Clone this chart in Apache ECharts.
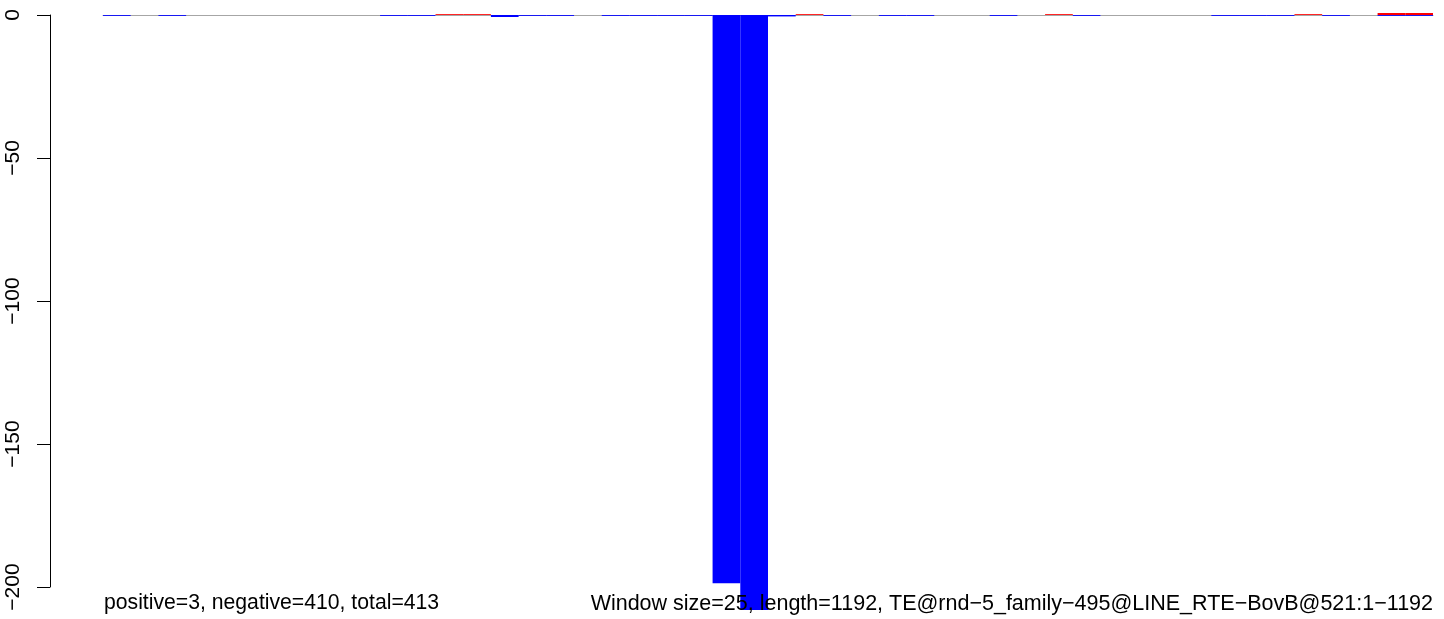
<!DOCTYPE html>
<html>
<head>
<meta charset="utf-8">
<script src="https://cdn.jsdelivr.net/npm/echarts@6/dist/echarts.min.js"></script>
<style>
html, body { margin: 0; padding: 0; background: #fff; }
#main { width: 1444px; height: 619px; }
</style>
</head>
<body>
<div id="main"></div>
<script>
// one window per bar, 48 windows of 25 over 1192
var windows = [];
for (var w = 0; w < 48; w++) windows.push(String(w + 1));

var negVals = [
  -0.3, 0, -0.3, 0, 0, 0, 0, 0, 0, 0,
  -0.3, -0.3, 0, 0, -0.7, -0.3, -0.3, 0, -0.3, -0.3,
  -0.3, -0.3, -198.7, -208, -0.5, 0, -0.3, 0, -0.3, -0.3,
  0, 0, -0.3, 0, 0, -0.3, 0, 0, 0, 0,
  -0.3, -0.3, -0.3, 0, -0.3, 0, -0.3, -0.3
];
var posVals = [
  0, 0, 0, 0, 0, 0, 0, 0, 0, 0,
  0, 0, 0.3, 0.3, 0, 0, 0, 0, 0, 0,
  0, 0, 0, 0, 0, 0.3, 0, 0, 0, 0,
  0, 0, 0, 0, 0.3, 0, 0, 0, 0, 0,
  0, 0, 0, 0.3, 0, 0, 0.7, 0.7
];
var yTicks = [0, -50, -100, -150, -200];

var leftText = 'positive=3, negative=410, total=413';
var rightText = 'Window size=25, length=1192, TE@rnd\u22125_family\u2212495@LINE_RTE\u2212BovB@521:1\u22121192';

var font = 'Liberation Sans, Arial, Helvetica, sans-serif';
var chart = echarts.init(document.getElementById('main'));

var option = {
    animation: false,
    backgroundColor: '#fff',
    textStyle: { fontFamily: font },
    title: [{
        text: leftText,
        left: 104, top: 593, padding: 0,
        textStyle: { fontFamily: font, fontSize: 21.2, fontWeight: 'normal', color: '#000' }
    }, {
        text: rightText,
        right: 11, top: 593, padding: 0,
        textStyle: { fontFamily: font, fontSize: 21.5, fontWeight: 'normal', color: '#000' }
    }],
    grid: { left: 103, right: 11, top: 15, bottom: 32, outerBoundsMode: 'none' },
    xAxis: {
        type: 'category',
        data: windows,
        boundaryGap: true,
        axisLine: { show: true, onZero: true, lineStyle: { color: '#a6a6a6', width: 1 } },
        axisTick: { show: false },
        axisLabel: { show: false },
        splitLine: { show: false }
    },
    yAxis: {
        type: 'value',
        min: -200, max: 0, interval: 50,
        offset: 53,
        axisLine: { show: true, lineStyle: { color: '#000', width: 1 } },
        axisTick: { show: true, inside: false, length: 13, lineStyle: { color: '#000', width: 1 } },
        axisLabel: {
            show: true, rotate: 90, margin: 26,
            fontSize: 21, color: '#000', fontFamily: font,
            customValues: yTicks,
            formatter: function (v) { return String(v).replace('-', '\u2212'); }
        },
        splitLine: { show: false }
    },
    series: [{
        name: 'negative',
        type: 'bar',
        data: negVals,
        barWidth: '100%',
        barGap: '-100%',
        barCategoryGap: 0,
        clip: false,
        itemStyle: { color: '#0000ff' }
    }, {
        name: 'positive',
        type: 'bar',
        data: posVals,
        barWidth: '100%',
        barGap: '-100%',
        barCategoryGap: 0,
        clip: false,
        itemStyle: { color: '#ff0000' }
    }]
};
chart.setOption(option);
</script>
</body>
</html>
